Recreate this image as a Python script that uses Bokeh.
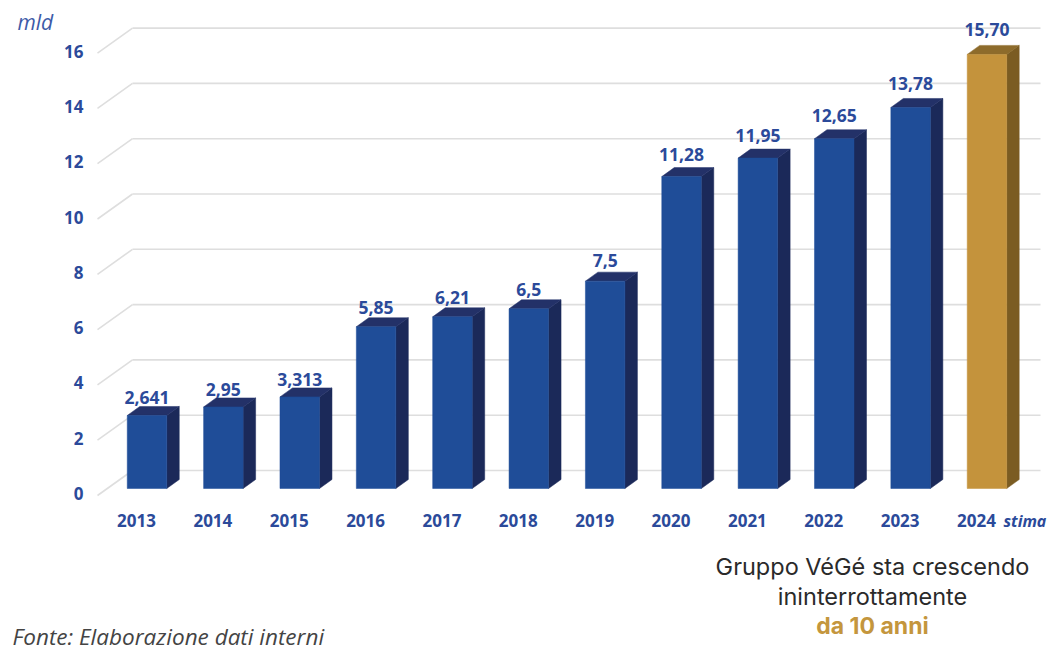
from bokeh.plotting import figure
from bokeh.models import Range1d
from bokeh.core.properties import value
from bokeh.embed import file_html
from bokeh.resources import INLINE

# ---- data ----
years = ["2013", "2014", "2015", "2016", "2017", "2018", "2019", "2020", "2021", "2022", "2023", "2024"]
values = [2.641, 2.95, 3.313, 5.85, 6.21, 6.5, 7.5, 11.28, 11.95, 12.65, 13.78, 15.70]
value_labels = ["2,641", "2,95", "3,313", "5,85", "6,21", "6,5", "7,5", "11,28", "11,95", "12,65", "13,78", "15,70"]
is_estimate = [False] * 11 + [True]
y_ticks = [0, 2, 4, 6, 8, 10, 12, 14, 16]
y_tick_labels = ["0", "2", "4", "6", "8", "10", "12", "14", "16"]

# ---- geometry (pixel calibration) ----
W, H = 1052, 654
X0, XS = 146.5, 76.36     # px of first bar centre, px per category
Y0, YS = 488.0, 27.65     # px of value 0, px per unit


def px2x(px):
    return (px - X0) / XS


def py2y(py):
    return (Y0 - py) / YS


p = figure(width=W, height=H, output_backend="svg", toolbar_location=None,
           x_axis_location=None, y_axis_location=None, min_border=0,
           x_range=Range1d(px2x(0), px2x(W)), y_range=Range1d(py2y(H), py2y(0)))
p.outline_line_color = None
p.grid.visible = False
p.background_fill_color = "white"
p.border_fill_color = "white"

BLUE = "#2b4a9a"
grid_col = "#dedede"
LBL_FONT = value("Open Sans")

# ---- grid (back wall + left wall diagonals) ----
back_off = 18 / YS
front_off = back_off - 25 / YS
xb0, xb1 = px2x(132), px2x(1040)
xf = px2x(97)
p.segment(x0=[xb0] * len(y_ticks), y0=[t + back_off for t in y_ticks],
          x1=[xb1] * len(y_ticks), y1=[t + back_off for t in y_ticks],
          line_color=grid_col, line_width=1.6)
p.segment(x0=[xf] * len(y_ticks), y0=[t + front_off for t in y_ticks],
          x1=[xb0] * len(y_ticks), y1=[t + back_off for t in y_ticks],
          line_color=grid_col, line_width=1.6)

# y tick labels
p.text(x=[px2x(83)] * len(y_ticks), y=[t - 5 / YS for t in y_ticks], text=y_tick_labels,
       text_font=LBL_FONT, text_font_style="bold", text_font_size=value("17px"),
       text_color=BLUE, text_align="right", text_baseline="middle")

# ---- 3D bars ----
w = 39.5 / XS
dx = 12.5 / XS
dy = 9 / YS
xs = list(range(len(years)))
front_col = ["#c4933c" if e else "#1f4d98" for e in is_estimate]
side_col = ["#7b5c22" if e else "#1b2959" for e in is_estimate]
top_col = ["#8d6b2b" if e else "#233168" for e in is_estimate]

side_x, side_y, top_x, top_y = [], [], [], []
for x, v in zip(xs, values):
    r = x + w / 2
    l = x - w / 2
    side_x.append([r, r + dx, r + dx, r])
    side_y.append([0, dy, v + dy, v])
    top_x.append([l, r, r + dx, l + dx])
    top_y.append([v, v, v + dy, v + dy])

p.patches(xs=side_x, ys=side_y, fill_color=side_col, line_color=side_col, line_width=0.5)
p.patches(xs=top_x, ys=top_y, fill_color=top_col, line_color=top_col, line_width=0.5)
p.vbar(x=xs, top=values, bottom=0, width=w, fill_color=front_col, line_color=front_col, line_width=0.5)

# value labels
p.text(x=xs, y=[v * 1.02 + 0.58 for v in values], text=value_labels,
       text_font=LBL_FONT, text_font_style="bold", text_font_size=value("17.5px"),
       text_color=BLUE, text_align="center", text_baseline="middle")

# x category labels
p.text(x=[x - 10.5 / XS for x in xs], y=[py2y(520)] * len(xs), text=years,
       text_font=LBL_FONT, text_font_style="bold", text_font_size=value("17px"),
       text_color=BLUE, text_align="center", text_baseline="middle")
p.text(x=[px2x(1003)], y=[py2y(520)], text=["stima"],
       text_font=LBL_FONT, text_font_style="bold italic", text_font_size=value("16px"),
       text_color=BLUE, text_align="left", text_baseline="middle")

# unit label
p.text(x=[px2x(17)], y=[py2y(21)], text=["mld"],
       text_font=value("Open Sans"), text_font_style="italic", text_font_size=value("21px"),
       text_color="#3d5ba8", text_align="left", text_baseline="middle")

# annotation
p.text(x=[px2x(872), px2x(872)], y=[py2y(566), py2y(596)],
       text=["Gruppo VéGé sta crescendo", "ininterrottamente"],
       text_font=value("Inter"), text_font_size=value("23.5px"),
       text_color="#2a2a2a", text_align="center", text_baseline="middle")
p.text(x=[px2x(872)], y=[py2y(625)], text=["da 10 anni"],
       text_font=value("Inter"), text_font_style="bold", text_font_size=value("23px"),
       text_color="#c4963d", text_align="center", text_baseline="middle")

# source
p.text(x=[px2x(12)], y=[py2y(636)], text=["Fonte: Elaborazione dati interni"],
       text_font=value("Open Sans"), text_font_style="italic", text_font_size=value("22.5px"),
       text_color="#444444", text_align="left", text_baseline="middle")

open("out.html", "w").write(file_html(p, INLINE))
